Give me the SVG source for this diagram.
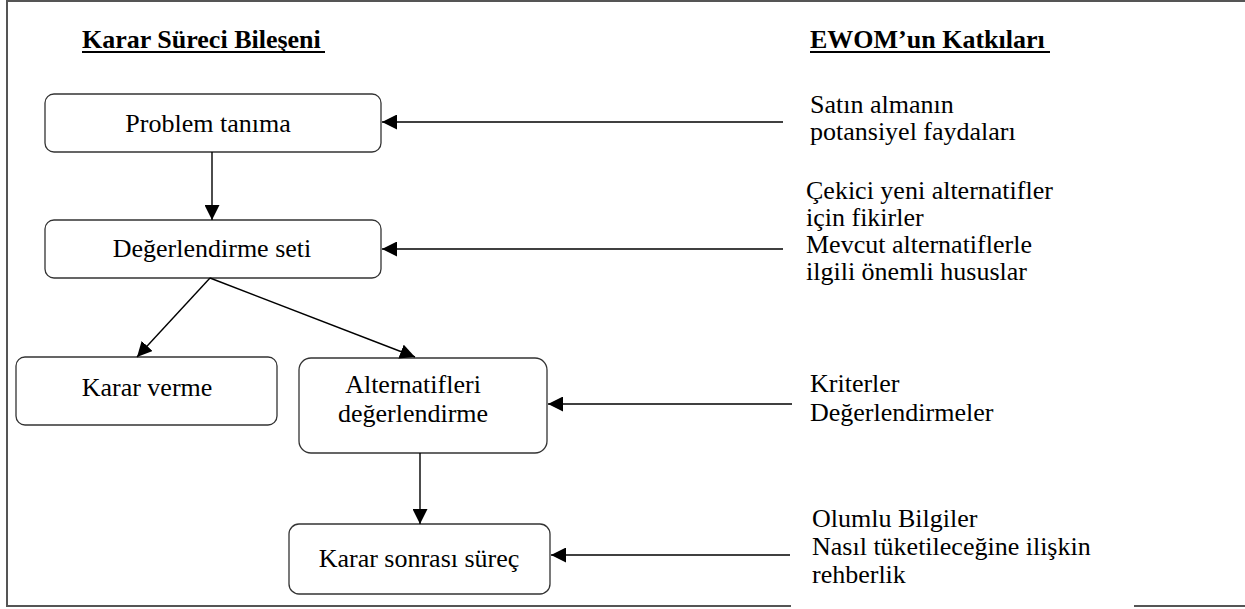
<svg xmlns="http://www.w3.org/2000/svg" width="1245" height="609" viewBox="0 0 1245 609">
<style>
  .box { fill: #fff; stroke: #333; stroke-width: 1.3; }
  .conn line { stroke: #000; stroke-width: 1.4; marker-end: url(#arr); }
  .frame { stroke: #555; stroke-width: 2; fill: none; }
  .ul { stroke: #000; stroke-width: 2.2; }
</style>
<defs>
  <marker id="arr" markerUnits="userSpaceOnUse" markerWidth="15" markerHeight="15" refX="15" refY="7.5" orient="auto">
    <path d="M0,0 L15,7.5 L0,15 z" fill="#000"/>
  </marker>
</defs>
<rect width="1245" height="609" fill="#fff"/>
<g id="frame">
  <path class="frame" d="M7,1 H1245 M7,0 V607 M6,606 H791 M1134,606 H1245"/>
</g>
<g id="headers" style="font-family: 'Liberation Serif', serif; font-size: 26px; font-weight: bold">
  <text x="82" y="48">Karar Süreci Bileşeni</text>
  <line class="ul" x1="82" y1="52" x2="325" y2="52"/>
  <text x="810" y="48">EWOM’un Katkıları</text>
  <line class="ul" x1="810" y1="52" x2="1050" y2="52"/>
</g>
<g id="nodes" style="font-family: 'Liberation Serif', serif; font-size: 26px; text-anchor: middle">
<g id="node-problem">
  <rect class="box" x="45" y="94" width="336" height="58" rx="9"/>
  <text x="208" y="132">Problem tanıma</text>
</g>
<g id="node-degerlendirme-seti">
  <rect class="box" x="45" y="220" width="336" height="58" rx="9"/>
  <text x="212" y="257">Değerlendirme seti</text>
</g>
<g id="node-karar-verme">
  <rect class="box" x="16" y="357" width="261" height="68" rx="9"/>
  <text x="147" y="396">Karar verme</text>
</g>
<g id="node-alternatifleri">
  <rect class="box" x="299" y="358" width="248" height="95" rx="12"/>
  <text x="413" y="393">Alternatifleri</text>
  <text x="413" y="422">değerlendirme</text>
</g>
<g id="node-karar-sonrasi">
  <rect class="box" x="289" y="524" width="261" height="70" rx="10"/>
  <text x="419" y="567">Karar sonrası süreç</text>
</g>
</g>
<g id="contributions" style="font-family: 'Liberation Serif', serif; font-size: 26px">
<g id="contrib-1">
  <text x="810" y="113">Satın almanın</text>
  <text x="810" y="140">potansiyel faydaları</text>
</g>
<g id="contrib-2">
  <text x="806" y="199">Çekici yeni alternatifler</text>
  <text x="806" y="226">için fikirler</text>
  <text x="806" y="253">Mevcut alternatiflerle</text>
  <text x="806" y="280">ilgili önemli hususlar</text>
</g>
<g id="contrib-3">
  <text x="810" y="392">Kriterler</text>
  <text x="810" y="421">Değerlendirmeler</text>
</g>
<g id="contrib-4">
  <text x="812" y="527">Olumlu Bilgiler</text>
  <text x="812" y="555">Nasıl tüketileceğine ilişkin</text>
  <text x="812" y="583">rehberlik</text>
</g>
</g>
<g id="connectors" class="conn">
  <line x1="212" y1="152" x2="212" y2="220"/>
  <line x1="210" y1="278" x2="137" y2="357"/>
  <line x1="210" y1="278" x2="415" y2="357"/>
  <line x1="420" y1="453" x2="420" y2="524"/>
  <line x1="783" y1="122" x2="382" y2="122"/>
  <line x1="783" y1="249" x2="382" y2="249"/>
  <line x1="792" y1="404" x2="548" y2="404"/>
  <line x1="790" y1="555" x2="551" y2="555"/>
</g>
</svg>
